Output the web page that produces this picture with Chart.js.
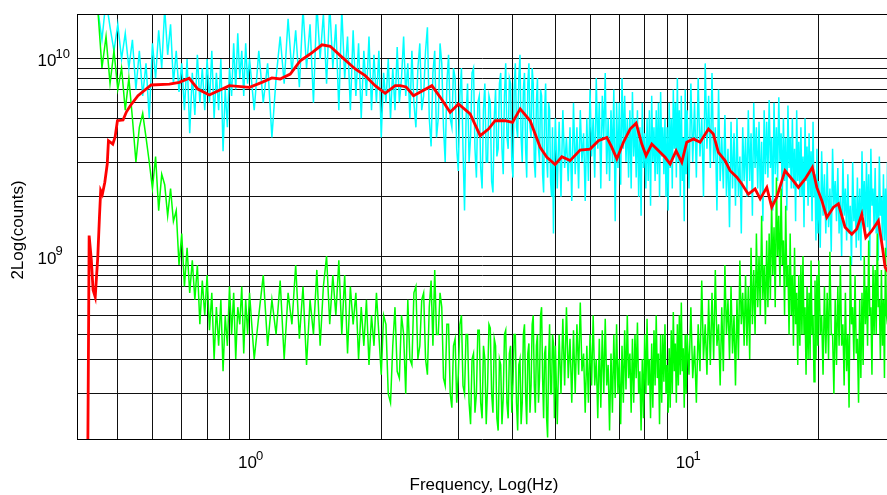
<!DOCTYPE html>
<html>
<head>
<meta charset="utf-8">
<title>Spectrum</title>
<script src="https://cdn.jsdelivr.net/npm/chart.js@4.4.0/dist/chart.umd.min.js"></script>
<style>
  html, body { margin: 0; padding: 0; background: #fff; }
</style>
</head>
<body>
<canvas id="spectrum" width="887" height="495"></canvas>
<script>
// frequency bins (Hz) shared by the two raw spectra
const freqHz = [
  0.45,0.46,0.47,0.48,0.49,0.50,0.51,0.52,0.53,0.54,0.55,0.56,0.57,0.58,0.59,0.60,0.61,0.62,0.63,0.64,
  0.65,0.66,0.67,0.68,0.69,0.70,0.71,0.72,0.73,0.74,0.75,0.76,0.77,0.78,0.79,0.80,0.81,0.82,0.83,0.84,
  0.85,0.86,0.87,0.88,0.89,0.90,0.91,0.92,0.93,0.94,0.95,0.96,0.97,0.98,0.99,
  1.0,1.025,1.05,1.075,1.1,1.125,1.15,1.175,1.2,1.225,1.25,1.275,1.3,1.325,1.35,1.375,1.4,1.425,1.45,1.475,
  1.5,1.525,1.55,1.575,1.6,1.625,1.65,1.675,1.7,1.725,1.75,1.775,1.8,1.825,1.85,1.875,1.9,1.925,1.95,1.975,
  2.0,2.025,2.05,2.075,2.1,2.125,2.15,2.175,2.2,2.225,2.25,2.275,2.3,2.325,2.35,2.375,2.4,2.425,2.45,2.475,
  2.5,2.525,2.55,2.575,2.6,2.625,2.65,2.675,2.7,2.725,2.75,2.775,2.8,2.825,2.85,2.875,2.9,2.925,2.95,2.975,
  3.0,3.025,3.05,3.075,3.1,3.125,3.15,3.175,3.2,3.225,3.25,3.275,3.3,3.325,3.35,3.375,3.4,3.425,3.45,3.475,
  3.5,3.525,3.55,3.575,3.6,3.625,3.65,3.675,3.7,3.725,3.75,3.775,3.8,3.825,3.85,3.875,3.9,3.925,3.95,3.975,
  4.0,4.025,4.05,4.075,4.1,4.125,4.15,4.175,4.2,4.225,4.25,4.275,4.3,4.325,4.35,4.375,4.4,4.425,4.45,4.475,
  4.5,4.525,4.55,4.575,4.6,4.625,4.65,4.675,4.7,4.725,4.75,4.775,4.8,4.825,4.85,4.875,4.9,4.925,4.95,4.975,
  5.0,5.05,5.1,5.15,5.2,5.25,5.3,5.35,5.4,5.45,5.5,5.55,5.6,5.65,5.7,5.75,5.8,5.85,5.9,5.95,
  6.0,6.05,6.1,6.15,6.2,6.25,6.3,6.35,6.4,6.45,6.5,6.55,6.6,6.65,6.7,6.75,6.8,6.85,6.9,6.95,
  7.0,7.05,7.1,7.15,7.2,7.25,7.3,7.35,7.4,7.45,7.5,7.55,7.6,7.65,7.7,7.75,7.8,7.85,7.9,7.95,
  8.0,8.05,8.1,8.15,8.2,8.25,8.3,8.35,8.4,8.45,8.5,8.55,8.6,8.65,8.7,8.75,8.8,8.85,8.9,8.95,
  9.0,9.05,9.1,9.15,9.2,9.25,9.3,9.35,9.4,9.45,9.5,9.55,9.6,9.65,9.7,9.75,9.8,9.85,9.9,9.95,
  10.0,10.1,10.2,10.3,10.4,10.5,10.6,10.7,10.8,10.9,11.0,11.1,11.2,11.3,11.4,11.5,11.6,11.7,11.8,11.9,
  12.0,12.1,12.2,12.3,12.4,12.5,12.6,12.7,12.8,12.9,13.0,13.1,13.2,13.3,13.4,13.5,13.6,13.7,13.8,13.9,
  14.0,14.1,14.2,14.3,14.4,14.5,14.6,14.7,14.8,14.9,15.0,15.1,15.2,15.3,15.4,15.5,15.6,15.7,15.8,15.9,
  16.0,16.1,16.2,16.3,16.4,16.5,16.6,16.7,16.8,16.9,17.0,17.1,17.2,17.3,17.4,17.5,17.6,17.7,17.8,17.9,
  18.0,18.1,18.2,18.3,18.4,18.5,18.6,18.7,18.8,18.9,19.0,19.1,19.2,19.3,19.4,19.5,19.6,19.7,19.8,19.9,
  20.0,20.15,20.3,20.45,20.6,20.75,20.9,21.05,21.2,21.35,21.5,21.65,21.8,21.95,22.1,22.25,22.4,22.55,22.7,22.85,
  23.0,23.15,23.3,23.45,23.6,23.75,23.9,24.05,24.2,24.35,24.5,24.65,24.8,24.95,25.1,25.25,25.4,25.55,25.7,25.85,
  26.0,26.15,26.3,26.45,26.6,26.75,26.9,27.05,27.2,27.35,27.5,27.65,27.8,27.95,28.1,28.25,28.4,28.55,28.7
];

// raw spectrum, cyan trace
const cyanCounts = [
  1.8e10,1.25e10,2.0e10,1.45e10,1.1e10,1.5e10,1.0e10,1.35e10,9e9,1.25e10,7.0e9,1.1e10,6.5e9,9.5e9,5.0e9,1.2e10,8.0e9,1.4e10,9.0e9,1.8e10,
  1.05e10,1.5e10,7.5e9,1.1e10,6.8e9,9.5e9,5.5e9,1.0e10,4.2e9,8.5e9,5.2e9,1.05e10,6.0e9,9.0e9,5.5e9,1.0e10,6.0e9,1.1e10,5.0e9,8.5e9,
  5.5e9,1.0e10,3.4e9,7.0e9,4.5e9,9.0e9,6.5e9,1.2e10,7.0e9,1.35e10,8.0e9,1.1e10,6.5e9,1.2e10,7.5e9,
  1.0e10,5.5e9,1.1e10,6.0e9,9.5e9,4.0e9,8.0e9,1.3e10,7.5e9,1.6e10,8.5e9,1.4e10,7.2e9,1.8e10,9.0e9,1.5e10,6.0e9,1.9e10,1.0e10,1.7e10,
  7.5e9,1.9e10,9.0e9,1.5e10,5.5e9,1.8e10,8.0e9,1.3e10,5.5e9,1.4e10,6.5e9,1.2e10,5.0e9,1.1e10,6.5e9,1.3e10,5.5e9,1.05e10,6.0e9,1.1e10,
  4.0e9,8.5e9,6.0e9,1.0e10,5.0e9,9.0e9,5.5e9,1.15e10,6.0e9,8.0e9,1.3e10,6.5e9,9.5e9,5.0e9,1.1e10,6.0e9,4.5e9,9.0e9,1.2e10,5.5e9,
  6.5e9,1.1e10,1.45e10,5.0e9,3.6e9,8.5e9,1.1e10,4.0e9,5.0e9,1.2e10,9.5e9,4.5e9,3.0e9,7.5e9,1.05e10,5.0e9,4.5e9,9.0e9,8.0e9,3.5e9,
  2.7e9,6.5e9,9.0e9,3.5e9,1.7e9,5.0e9,7.5e9,3.0e9,4.0e9,8.5e9,9.0e9,3.5e9,2.5e9,6.0e9,6.5e9,2.8e9,2.2e9,5.5e9,7.5e9,3.0e9,
  3.0e9,6.5e9,6.0e9,2.4e9,2.1e9,5.0e9,7.0e9,3.2e9,3.5e9,7.5e9,8.5e9,3.5e9,2.6e9,6.5e9,9.5e9,4.0e9,3.5e9,8.0e9,7.5e9,3.0e9,
  2.5e9,7.0e9,9.5e9,4.5e9,4.0e9,8.0e9,1.05e10,4.0e9,3.0e9,7.0e9,8.5e9,3.5e9,2.5e9,7.5e9,9.5e9,4.5e9,4.0e9,9.0e9,7.5e9,3.0e9,
  2.5e9,6.0e9,8.0e9,3.5e9,3.0e9,7.0e9,6.5e9,2.6e9,2.1e9,5.5e9,7.5e9,3.2e9,2.5e9,6.0e9,5.5e9,2.4e9,2.0e9,4.5e9,1.3e9,3.0e9,
  5.0e9,2.2e9,4.8e9,2.0e9,5.5e9,2.8e9,4.0e9,2.4e9,4.5e9,1.9e9,6.0e9,2.6e9,4.5e9,2.2e9,5.5e9,3.0e9,4.2e9,1.9e9,5.0e9,2.4e9,
  7.0e9,3.2e9,5.0e9,2.5e9,8.0e9,3.5e9,6.0e9,2.2e9,6.5e9,4.0e9,8.5e9,2.6e9,5.0e9,2.4e9,5.5e9,3.0e9,7.0e9,1.5e9,6.0e9,2.8e9,
  6.0e9,2.3e9,8.0e9,3.5e9,6.5e9,3.0e9,5.0e9,2.5e9,5.5e9,2.2e9,6.8e9,3.2e9,5.0e9,2.5e9,5.5e9,2.0e9,4.5e9,1.6e9,6.0e9,2.8e9,
  4.2e9,2.2e9,5.0e9,2.4e9,5.5e9,1.8e9,6.5e9,3.0e9,4.5e9,2.4e9,5.5e9,2.6e9,6.0e9,2.0e9,6.8e9,3.2e9,4.5e9,2.6e9,5.0e9,2.0e9,
  4.5e9,1.7e9,6.0e9,2.8e9,5.0e9,2.2e9,7.0e9,3.5e9,6.0e9,2.5e9,8.0e9,3.0e9,5.5e9,2.0e9,6.5e9,2.4e9,4.0e9,1.5e9,7.0e9,2.6e9,
  5.5e9,2.2e9,7.5e9,3.0e9,6.0e9,2.5e9,8.0e9,3.2e9,5.0e9,2.0e9,9.5e9,3.5e9,6.5e9,2.8e9,8.5e9,3.0e9,4.5e9,1.7e9,7.0e9,2.4e9,
  4.0e9,2.2e9,5.2e9,2.0e9,3.5e9,1.4e9,4.8e9,2.2e9,4.2e9,1.8e9,5.0e9,2.0e9,3.2e9,1.3e9,4.5e9,2.4e9,4.0e9,2.0e9,5.5e9,2.4e9,
  4.2e9,1.6e9,6.0e9,2.8e9,4.5e9,2.2e9,4.8e9,2.0e9,3.8e9,1.5e9,5.5e9,2.6e9,4.8e9,2.5e9,6.2e9,2.8e9,4.0e9,1.7e9,6.0e9,2.6e9,
  4.5e9,2.4e9,6.4e9,3.0e9,4.2e9,2.0e9,5.0e9,2.4e9,4.0e9,1.7e9,5.8e9,2.8e9,4.0e9,2.2e9,5.0e9,2.2e9,3.5e9,1.5e9,5.5e9,2.4e9,
  3.8e9,2.0e9,4.5e9,2.0e9,3.2e9,1.4e9,5.0e9,2.4e9,3.6e9,1.8e9,4.2e9,2.0e9,3.4e9,1.5e9,4.8e9,2.0e9,2.6e9,1.2e9,3.5e9,1.3e9,
  2.4e9,1.1e9,3.4e9,1.6e9,2.6e9,1.3e9,3.0e9,1.4e9,2.2e9,1.05e9,3.5e9,1.8e9,2.4e9,1.5e9,2.8e9,1.3e9,2.0e9,1.0e9,3.1e9,1.6e9,
  2.2e9,1.2e9,2.6e9,1.3e9,1.8e9,9.0e8,3.0e9,1.5e9,2.0e9,1.1e9,2.5e9,1.2e9,2.2e9,9.5e8,3.4e9,1.6e9,2.4e9,1.3e9,3.0e9,1.4e9,
  2.6e9,1.0e9,3.5e9,1.8e9,2.2e9,1.4e9,2.8e9,1.3e9,2.0e9,9.5e8,3.2e9,1.6e9,2.0e9,1.2e9,2.6e9,1.2e9,2.2e9,1.0e9,3.0e9
];

// raw spectrum, green trace
const greenCounts = [
  1.8e10,9.0e9,1.3e10,7.5e9,1.1e10,7.0e9,9.0e9,5.5e9,8.0e9,5.0e9,3.0e9,4.5e9,5.3e9,4.0e9,3.0e9,2.2e9,3.2e9,1.7e9,2.6e9,2.3e9,
  1.6e9,2.2e9,1.5e9,1.7e9,9.0e8,1.3e9,7.0e8,1.1e9,6.5e8,9.5e8,6.0e8,9.0e8,4.5e8,7.5e8,5.0e8,8.0e8,4.2e8,6.5e8,3.0e8,5.5e8,
  3.5e8,6.0e8,2.6e8,5.0e8,3.5e8,7.0e8,4.0e8,6.5e8,3.0e8,5.5e8,4.5e8,7.0e8,3.2e8,6.0e8,4.0e8,
  6.5e8,3.0e8,5.0e8,8.0e8,3.5e8,6.0e8,4.0e8,7.5e8,3.0e8,6.5e8,4.5e8,9.0e8,3.8e8,7.0e8,2.8e8,6.0e8,4.0e8,8.5e8,3.5e8,7.0e8,
  1.0e9,4.5e8,8.0e8,5.0e8,9.5e8,4.0e8,8.0e8,3.2e8,7.0e8,4.5e8,6.5e8,3.0e8,5.5e8,3.5e8,6.0e8,2.8e8,5.0e8,3.5e8,6.5e8,4.0e8,
  2.5e8,5.0e8,4.5e8,2.0e8,1.8e8,3.5e8,5.5e8,2.6e8,2.4e8,5.0e8,4.0e8,2.0e8,6.0e8,3.0e8,2.8e8,6.5e8,7.0e8,3.0e8,3.5e8,6.0e8,
  6.5e8,3.0e8,2.5e8,5.5e8,7.5e8,3.5e8,8.5e8,4.0e8,4.0e8,6.5e8,5.5e8,2.4e8,2.2e8,4.5e8,4.5e8,2.0e8,1.7e8,3.5e8,3.8e8,1.8e8,
  2.5e8,4.5e8,5.0e8,2.2e8,2.0e8,4.0e8,4.0e8,1.8e8,1.4e8,3.0e8,3.2e8,1.6e8,2.0e8,4.2e8,4.2e8,1.8e8,1.5e8,3.5e8,3.0e8,1.4e8,
  2.2e8,4.5e8,4.3e8,2.0e8,1.6e8,3.8e8,3.5e8,1.5e8,1.3e8,3.0e8,2.8e8,1.4e8,1.9e8,4.0e8,4.2e8,1.8e8,1.5e8,3.2e8,3.5e8,1.6e8,
  2.3e8,4.0e8,4.0e8,1.8e8,1.3e8,2.8e8,3.0e8,1.4e8,1.8e8,4.0e8,4.5e8,2.0e8,1.4e8,3.2e8,3.6e8,1.6e8,2.2e8,4.5e8,5.0e8,2.2e8,
  1.6e8,3.5e8,4.0e8,1.8e8,2.4e8,5.0e8,5.5e8,2.4e8,1.5e8,3.2e8,3.5e8,1.5e8,1.2e8,3.0e8,4.5e8,2.0e8,2.0e8,4.0e8,3.6e8,1.5e8,
  3.5e8,1.4e8,4.0e8,2.0e8,4.8e8,2.2e8,5.5e8,2.4e8,3.8e8,1.8e8,4.2e8,2.0e8,4.5e8,2.5e8,5.8e8,2.6e8,3.2e8,1.6e8,3.5e8,1.8e8,
  4.0e8,2.2e8,5.0e8,2.2e8,3.0e8,1.5e8,3.8e8,1.7e8,4.2e8,2.0e8,4.8e8,2.2e8,2.8e8,1.3e8,3.2e8,1.6e8,4.0e8,1.9e8,4.5e8,2.0e8,
  3.0e8,1.4e8,3.5e8,1.8e8,4.2e8,2.1e8,5.0e8,2.4e8,3.2e8,1.6e8,3.8e8,1.8e8,4.0e8,2.4e8,4.6e8,2.0e8,2.6e8,1.3e8,3.0e8,1.5e8,
  4.0e8,2.0e8,4.8e8,2.2e8,3.0e8,1.5e8,3.6e8,1.7e8,4.2e8,2.2e8,5.0e8,2.4e8,3.2e8,1.4e8,4.0e8,1.8e8,4.0e8,2.3e8,4.5e8,2.0e8,
  2.8e8,1.6e8,3.4e8,1.7e8,4.2e8,2.0e8,5.2e8,2.6e8,3.6e8,1.8e8,4.5e8,2.2e8,5.0e8,2.5e8,5.8e8,2.6e8,3.4e8,1.7e8,4.0e8,2.0e8,
  4.0e8,2.5e8,5.5e8,2.4e8,3.5e8,1.8e8,4.5e8,2.6e8,7.5e8,3.0e8,4.5e8,2.5e8,6.0e8,2.8e8,6.5e8,3.0e8,8.5e8,3.5e8,4.5e8,2.2e8,
  5.5e8,2.6e8,9.0e8,4.0e8,6.0e8,3.0e8,7.0e8,3.2e8,5.0e8,2.2e8,6.0e8,3.0e8,9.5e8,4.5e8,6.5e8,3.5e8,8.0e8,3.5e8,7.0e8,3.0e8,
  1.1e9,4.5e8,8.5e8,4.0e8,1.3e9,5.5e8,1.0e9,5.0e8,1.6e9,6.0e8,9.0e8,4.5e8,1.2e9,5.5e8,1.3e9,6.0e8,1.9e9,8.0e8,1.4e9,5.5e8,
  2.5e9,1.0e9,1.6e9,7.0e8,2.2e9,9.0e8,1.2e9,5.0e8,1.8e9,7.0e8,9.0e8,4.0e8,1.3e9,5.0e8,8.0e8,3.5e8,1.1e9,4.5e8,6.5e8,2.8e8,
  8.0e8,3.5e8,9.0e8,4.0e8,1.0e9,4.0e8,5.5e8,2.5e8,7.0e8,3.0e8,6.5e8,3.0e8,9.5e8,4.0e8,5.0e8,2.3e8,7.5e8,3.0e8,8.0e8,3.5e8,
  9.5e8,4.0e8,5.0e8,2.5e8,7.0e8,3.2e8,6.5e8,3.0e8,1.05e9,4.0e8,4.0e8,2.0e8,6.0e8,2.8e8,7.0e8,3.5e8,9.0e8,3.5e8,4.5e8,2.2e8,
  6.5e8,2.6e8,4.0e8,1.7e8,1.0e9,4.5e8,5.5e8,3.0e8,8.0e8,3.2e8,3.8e8,1.8e8,6.0e8,2.4e8,6.5e8,2.8e8,1.0e9,4.5e8,7.0e8,3.5e8,
  1.2e9,5.0e8,5.5e8,2.5e8,9.0e8,4.0e8,8.5e8,4.0e8,1.3e9,5.5e8,6.0e8,3.0e8,8.5e8,3.5e8,6.0e8,2.4e8,1.1e9,5.0e8,4.5e8
];

// smoothed spectrum, red trace
const redFreqHz = [
  0.427,0.429,0.430,0.435,0.439,0.444,0.450,0.454,0.457,0.461,0.467,0.473,0.476,0.487,0.493,0.499,0.514,0.523,0.534,0.556,
  0.596,0.656,0.691,0.728,0.762,0.809,0.899,1.0,1.067,1.125,1.175,1.239,1.306,1.376,1.464,1.529,1.612,1.744,1.838,1.937,
  2.042,2.152,2.21,2.28,2.37,2.611,2.728,2.874,3.003,3.193,3.366,3.516,3.641,3.838,3.99,4.155,4.379,4.615,4.781,4.993,
  5.172,5.403,5.694,6.002,6.272,6.556,6.73,6.909,7.153,7.409,7.647,7.879,8.059,8.304,8.526,8.906,9.146,9.438,9.725,9.98,
  10.34,10.71,11.19,11.48,11.79,12.21,12.54,12.99,13.34,13.8,14.3,14.69,15.21,15.61,16.03,16.74,17.35,17.96,18.61,19.33,
  19.79,20.32,20.86,21.6,22.17,22.96,23.79,24.42,25.07,25.61,26.42,27.36,27.94,28.35,28.8
];
const redCounts = [
  1.0e8,5.28e8,1.27e9,9.55e8,6.72e8,6.19e8,9.88e8,1.58e9,2.15e9,2.06e9,2.37e9,2.93e9,3.85e9,3.70e9,4.02e9,4.86e9,4.90e9,5.38e9,5.79e9,6.51e9,
  7.38e9,7.46e9,7.61e9,7.98e9,7.04e9,6.57e9,7.32e9,7.18e9,7.61e9,8.01e9,7.92e9,8.39e9,9.80e9,1.06e10,1.18e10,1.16e10,1.04e10,8.90e9,8.23e9,7.32e9,
  6.70e9,7.32e9,7.32e9,7.21e9,6.51e9,7.32e9,6.39e9,5.36e9,5.91e9,5.26e9,4.08e9,4.41e9,4.86e9,4.86e9,4.77e9,5.58e9,4.86e9,3.56e9,3.17e9,2.91e9,
  3.19e9,3.05e9,3.45e9,3.49e9,3.85e9,4.00e9,3.56e9,3.11e9,3.78e9,4.41e9,4.72e9,3.70e9,3.23e9,3.70e9,3.49e9,3.17e9,2.93e9,3.42e9,2.99e9,3.78e9,
  3.93e9,3.78e9,4.41e9,4.16e9,3.36e9,3.05e9,2.71e9,2.51e9,2.32e9,2.06e9,2.19e9,1.95e9,2.23e9,1.77e9,1.99e9,2.71e9,2.46e9,2.23e9,2.46e9,2.82e9,
  2.23e9,1.91e9,1.57e9,1.77e9,1.84e9,1.40e9,1.29e9,1.37e9,1.63e9,1.24e9,1.34e9,1.51e9,1.11e9,8.76e8,8.30e8
];

// axis ranges and grid positions
const xMin = 0.4034, xMax = 28.63;
const yMin = 1.178e8, yMax = 1.692e10;
const xGrid = [0.5,0.6,0.7,0.8,0.9,1,2,3,4,5,6,7,8,9,10,20];
const yGrid = [2e8,3e8,4e8,5e8,6e8,7e8,8e8,9e8,1e9,2e9,3e9,4e9,5e9,6e9,7e9,8e9,9e9,1e10];
const xDecades = [1, 10];
const yDecades = [1e9, 1e10];

const FONT = '"Liberation Sans", Arial, Helvetica, sans-serif';

function points(xs, ys) {
  return xs.map((f, i) => ({ x: f, y: ys[i] }));
}

// "10" with a raised exponent
function powerLabel(ctx, x, baseline, exp, centred) {
  ctx.font = '17px ' + FONT;
  const w = ctx.measureText('10').width;
  const x0 = centred ? x - w / 2 : x;
  ctx.fillText('10', x0, baseline);
  ctx.font = '13px ' + FONT;
  ctx.fillText(exp, x0 + w - 1, baseline - 8.5);
}

const frameAndLabels = {
  id: 'frameAndLabels',
  afterDraw(chart) {
    const { ctx, chartArea: a, scales } = chart;
    ctx.save();
    ctx.strokeStyle = '#000';
    ctx.lineWidth = 1;
    ctx.beginPath();
    ctx.moveTo(a.left, a.top + 0.5);
    ctx.lineTo(a.right, a.top + 0.5);
    ctx.stroke();

    ctx.fillStyle = '#000';
    ctx.textAlign = 'left';
    ctx.textBaseline = 'alphabetic';
    yDecades.forEach(v => {
      powerLabel(ctx, 37.5, scales.y.getPixelForValue(v) + 7.5, String(Math.round(Math.log10(v))), false);
    });
    xDecades.forEach(v => {
      powerLabel(ctx, scales.x.getPixelForValue(v) - 2, 468, String(Math.round(Math.log10(v))), true);
    });

    ctx.font = '17px ' + FONT;
    ctx.textAlign = 'center';
    ctx.fillText('Frequency, Log(Hz)', 484, 490);
    ctx.translate(23, 230);
    ctx.rotate(-Math.PI / 2);
    ctx.fillText('2Log(counts)', 0, 0);
    ctx.restore();
  }
};

const gridStyle = { color: '#111', lineWidth: 1, drawTicks: false };

new Chart(document.getElementById('spectrum'), {
  type: 'line',
  data: {
    datasets: [
      { data: points(redFreqHz, redCounts), borderColor: '#ff0000', borderWidth: 2.8 },
      { data: points(freqHz, greenCounts), borderColor: '#00ff00', borderWidth: 1.5 },
      { data: points(freqHz, cyanCounts), borderColor: '#00ffff', borderWidth: 1.5 }
    ]
  },
  options: {
    responsive: false,
    animation: false,
    parsing: false,
    elements: { point: { radius: 0 }, line: { tension: 0 } },
    layout: { padding: { left: 77, top: 14, right: 0, bottom: 56 } },
    plugins: { legend: { display: false }, tooltip: { enabled: false } },
    scales: {
      x: {
        type: 'logarithmic', min: xMin, max: xMax,
        ticks: { display: false },
        afterBuildTicks: s => { s.ticks = xGrid.map(v => ({ value: v })); },
        grid: gridStyle,
        border: { color: '#000', width: 1 }
      },
      y: {
        type: 'logarithmic', min: yMin, max: yMax,
        ticks: { display: false },
        afterBuildTicks: s => { s.ticks = yGrid.map(v => ({ value: v })); },
        grid: gridStyle,
        border: { color: '#000', width: 1 }
      }
    }
  },
  plugins: [frameAndLabels]
});
</script>
</body>
</html>
